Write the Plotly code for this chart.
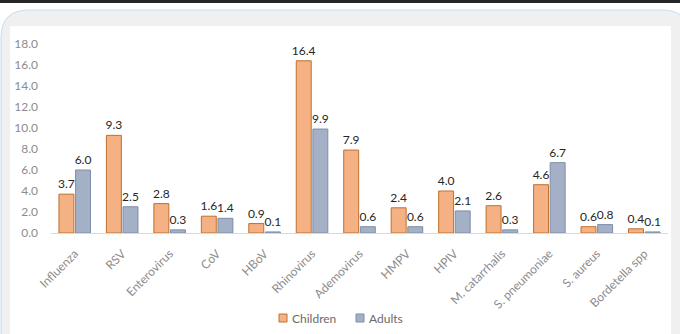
import plotly.graph_objects as go

# Detection rates (%) of respiratory pathogens by age group
categories = ["Influenza", "RSV", "Enterovirus", "CoV", "HBoV", "Rhinovirus",
              "Ademovirus", "HMPV", "HPIV", "M. catarrhalis", "S. pneumoniae",
              "S. aureus", "Bordetella spp"]
children = [3.7, 9.3, 2.8, 1.6, 0.9, 16.4, 7.9, 2.4, 4.0, 2.6, 4.6, 0.6, 0.4]
adults = [6.0, 2.5, 0.3, 1.4, 0.1, 9.9, 0.6, 0.6, 2.1, 0.3, 6.7, 0.8, 0.1]
y_ticks = [0, 2, 4, 6, 8, 10, 12, 14, 16, 18]

series_names = ["Children", "Adults"]
series_fill = ["#F4B183", "#A4B0C5"]
series_edge = ["#C0702F", "#7E8EA8"]

W, H = 680, 334
ML, MR, MT, MB = 51, 12, 44, 101
PW, PH = W - ML - MR, H - MT - MB

FONT = "Lato, 'Liberation Sans', sans-serif"


def px(x, y):
    """Convert pixel position on the page to paper coordinates."""
    return (x - ML) / PW, (H - MB - y) / PH


def path(points):
    parts = []
    for cmd, pts in points:
        coords = []
        for (x, y) in pts:
            a, b = px(x, y)
            coords.append(f"{a:.5f},{b:.5f}")
        parts.append(cmd + " ".join(coords))
    return " ".join(parts) + " Z"


def rect(xa, ya, xb, yb, **kw):
    a0, b0 = px(xa, ya)
    a1, b1 = px(xb, yb)
    return dict(type="rect", xref="paper", yref="paper",
                x0=a0, y0=b1, x1=a1, y1=b0, **kw)


frame = path([
    ("M", [(1, 345)]),
    ("L", [(1, 38)]),
    ("Q", [(1, 10), (29, 10)]),
    ("L", [(662, 10)]),
    ("Q", [(690, 10), (690, 38)]),
    ("L", [(690, 345)]),
])

shapes = [
    rect(0, 0, 680, 3, fillcolor="#262626", line_width=0, layer="below"),
    dict(type="path", xref="paper", yref="paper", path=frame,
         fillcolor="#f0f0f0", line=dict(color="#c6deef", width=1), layer="below"),
    rect(10, 26, 671, 345, fillcolor="#ffffff", line_width=0, layer="below"),
]

# Legend: small swatches followed by the series names, centred below the axis
annotations = []
legend_x = [279, 356]
for lx, name, fill, edge in zip(legend_x, series_names, series_fill, series_edge):
    shapes.append(rect(lx, 314, lx + 8, 322, fillcolor=fill,
                       line=dict(color=edge, width=1), layer="above"))
    ax, ay = px(lx + 11, 318)
    annotations.append(dict(xref="paper", yref="paper", x=ax, y=ay,
                            xanchor="left", yanchor="middle", showarrow=False,
                            text=name, font=dict(family=FONT, size=12, color="#6b6b6b")))

fig = go.Figure()
for name, vals, fill, edge in zip(series_names, [children, adults], series_fill, series_edge):
    fig.add_trace(go.Bar(
        name=name, x=categories, y=vals,
        marker=dict(color=fill, line=dict(color=edge, width=1)),
        texttemplate="%{y:.1f}", textposition="outside", constraintext="none",
        textfont=dict(family=FONT, size=12, color="#262626"), cliponaxis=False,
        showlegend=False,
    ))

fig.update_layout(
    width=W, height=H,
    margin=dict(l=ML, r=MR, t=MT, b=MB, autoexpand=False),
    paper_bgcolor="#ffffff", plot_bgcolor="rgba(0,0,0,0)",
    barmode="group", bargap=0.30, bargroupgap=0.10,
    shapes=shapes, annotations=annotations,
    font=dict(family=FONT, size=12, color="#7f7f7f"),
    showlegend=False,
    xaxis=dict(showline=True, linecolor="#d9d9d9", linewidth=1, showgrid=False,
               ticks="", tickangle=-45, tickfont=dict(family=FONT, size=12, color="#8c8c8c"),
               ticklabelstandoff=8, fixedrange=True),
    yaxis=dict(range=[0, 18], tickvals=y_ticks, tickformat=".1f", showgrid=False,
               zeroline=False, showline=False, ticks="",
               tickfont=dict(family=FONT, size=12, color="#8c8c8c"),
               ticklabelstandoff=12, fixedrange=True),
)

fig.write_html("out.html")
